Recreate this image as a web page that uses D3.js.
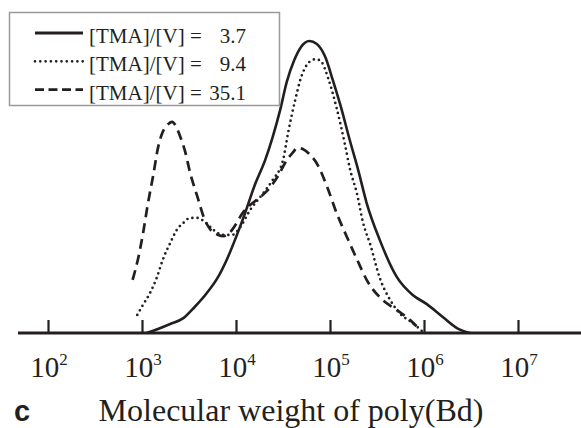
<!DOCTYPE html>
<html>
<head>
<meta charset="utf-8">
<script src="https://cdn.jsdelivr.net/npm/d3@7"></script>
<style>
  body { margin: 0; background: #fff; }
  svg { display: block; }
</style>
</head>
<body>
<div id="wrapper"></div>
<script>
// log10(MW) and relative height
const solidLogM = [3.05, 3.17, 3.30, 3.44, 3.56, 3.69, 3.81, 3.91, 4.01, 4.10, 4.20, 4.31, 4.39, 4.47, 4.54, 4.62, 4.69, 4.78, 4.86, 4.95, 5.03, 5.11, 5.21, 5.30, 5.39, 5.53, 5.71, 5.88, 6.03, 6.20, 6.35, 6.49]
const solidH = [0, 0.014, 0.031, 0.051, 0.089, 0.137, 0.192, 0.257, 0.336, 0.414, 0.507, 0.592, 0.671, 0.764, 0.860, 0.935, 0.979, 1.0, 0.990, 0.945, 0.866, 0.781, 0.661, 0.558, 0.445, 0.318, 0.192, 0.130, 0.099, 0.055, 0.017, 0]

const dottedLogM = [2.95, 3.01, 3.09, 3.16, 3.22, 3.30, 3.37, 3.44, 3.51, 3.59, 3.67, 3.76, 3.86, 3.96, 4.04, 4.15, 4.29, 4.39, 4.50, 4.56, 4.63, 4.69, 4.78, 4.85, 4.91, 4.98, 5.07, 5.16, 5.21, 5.29, 5.35, 5.43, 5.53, 5.64, 5.74, 5.88, 5.99]
const dottedH = [0.062, 0.096, 0.140, 0.192, 0.250, 0.308, 0.353, 0.377, 0.394, 0.394, 0.380, 0.353, 0.336, 0.336, 0.360, 0.421, 0.479, 0.524, 0.592, 0.695, 0.798, 0.873, 0.928, 0.938, 0.928, 0.873, 0.771, 0.644, 0.565, 0.473, 0.380, 0.301, 0.188, 0.113, 0.068, 0.034, 0.003]

const dashedLogM = [2.90, 2.96, 3.01, 3.06, 3.12, 3.17, 3.22, 3.28, 3.32, 3.36, 3.40, 3.46, 3.51, 3.59, 3.66, 3.73, 3.81, 3.87, 3.94, 4.00, 4.07, 4.15, 4.26, 4.34, 4.44, 4.54, 4.61, 4.65, 4.71, 4.79, 4.87, 4.97, 5.07, 5.18, 5.29, 5.39, 5.56, 5.71, 5.85, 5.96]
const dashedH = [0.182, 0.257, 0.339, 0.438, 0.541, 0.634, 0.688, 0.716, 0.723, 0.709, 0.678, 0.620, 0.551, 0.466, 0.394, 0.353, 0.336, 0.332, 0.346, 0.373, 0.411, 0.438, 0.466, 0.490, 0.534, 0.592, 0.620, 0.634, 0.630, 0.610, 0.575, 0.500, 0.411, 0.329, 0.250, 0.182, 0.113, 0.079, 0.045, 0.010]

const seriesLabels = ["[TMA]/[V] =", "[TMA]/[V] =", "[TMA]/[V] ="]
const seriesValues = ["3.7", "9.4", "35.1"]
const tickExponents = [2, 3, 4, 5, 6, 7]

const ink = "#231f20"
const serif = "'Liberation Serif', 'Times New Roman', serif"

const width = 581
const height = 428
const baseY = 333

const svg = d3.select("#wrapper")
  .append("svg")
  .attr("width", width)
  .attr("height", height)

const xScale = d3.scaleLog()
  .domain([1e2, 1e7])
  .range([48, 518])

const yScale = d3.scaleLinear()
  .domain([0, 1])
  .range([baseY, 41])

// curves
const lineGen = d3.line()
  .x(d => xScale(Math.pow(10, d[0])))
  .y(d => yScale(d[1]))
  .curve(d3.curveMonotoneX)

const series = [
  {x: solidLogM, y: solidH, dash: null, cap: "butt"},
  {x: dottedLogM, y: dottedH, dash: "0,5.2", cap: "round"},
  {x: dashedLogM, y: dashedH, dash: "10,6", cap: "butt"},
]

series.forEach(s => {
  svg.append("path")
    .attr("d", lineGen(d3.zip(s.x, s.y)))
    .attr("fill", "none")
    .attr("stroke", ink)
    .attr("stroke-width", s.dash ? 2.7 : 2.6)
    .attr("stroke-linecap", s.cap)
    .attr("stroke-dasharray", s.dash)
})

// axis
svg.append("line")
  .attr("x1", 18)
  .attr("x2", width)
  .attr("y1", baseY)
  .attr("y2", baseY)
  .attr("stroke", ink)
  .attr("stroke-width", 3)

const xAxisGen = d3.axisBottom(xScale)
  .tickValues(tickExponents.map(e => Math.pow(10, e)))
  .tickSize(-13)
  .tickFormat("")

const xAxis = svg.append("g")
  .attr("transform", `translate(0, ${baseY})`)
  .call(xAxisGen)
xAxis.select(".domain").remove()
xAxis.selectAll(".tick line")
  .attr("stroke", ink)
  .attr("stroke-width", 2.2)

const tickLabels = svg.append("g")
tickExponents.forEach(e => {
  const t = tickLabels.append("text")
    .attr("x", xScale(Math.pow(10, e)) + 1)
    .attr("y", 377)
    .attr("text-anchor", "middle")
    .attr("fill", ink)
    .style("font-family", serif)
    .style("font-size", "29px")
  t.append("tspan").text("10")
  t.append("tspan")
    .attr("dy", -12)
    .style("font-size", "17px")
    .text(e)
})

svg.append("text")
  .attr("x", 291)
  .attr("y", 421)
  .attr("text-anchor", "middle")
  .attr("fill", ink)
  .style("font-family", serif)
  .style("font-size", "32px")
  .text("Molecular weight of poly(Bd)")

svg.append("text")
  .attr("x", 14)
  .attr("y", 421)
  .attr("fill", ink)
  .style("font-family", "'Liberation Sans', Arial, sans-serif")
  .style("font-weight", "bold")
  .style("font-size", "29px")
  .text("c")

// legend
const legend = svg.append("g")
legend.append("rect")
  .attr("x", 9.5)
  .attr("y", 12.5)
  .attr("width", 270)
  .attr("height", 93)
  .attr("fill", "#fff")
  .attr("stroke", "#9a9a9a")
  .attr("stroke-width", 1.5)

series.forEach((s, i) => {
  const ly = 33 + i * 28.3
  legend.append("line")
    .attr("x1", 35)
    .attr("x2", 83)
    .attr("y1", ly)
    .attr("y2", ly)
    .attr("stroke", ink)
    .attr("stroke-width", s.dash ? 2.7 : 3)
    .attr("stroke-linecap", s.cap)
    .attr("stroke-dasharray", s.dash ? (s.cap === "round" ? "0,5.3" : "9,4.5") : null)
  legend.append("text")
    .attr("x", 89)
    .attr("y", ly + 10)
    .attr("fill", ink)
    .style("font-family", serif)
    .style("font-size", "21px")
    .text(seriesLabels[i])
  legend.append("text")
    .attr("x", 246)
    .attr("y", ly + 10)
    .attr("text-anchor", "end")
    .attr("fill", ink)
    .style("font-family", serif)
    .style("font-size", "21px")
    .text(seriesValues[i])
})
</script>
</body>
</html>
